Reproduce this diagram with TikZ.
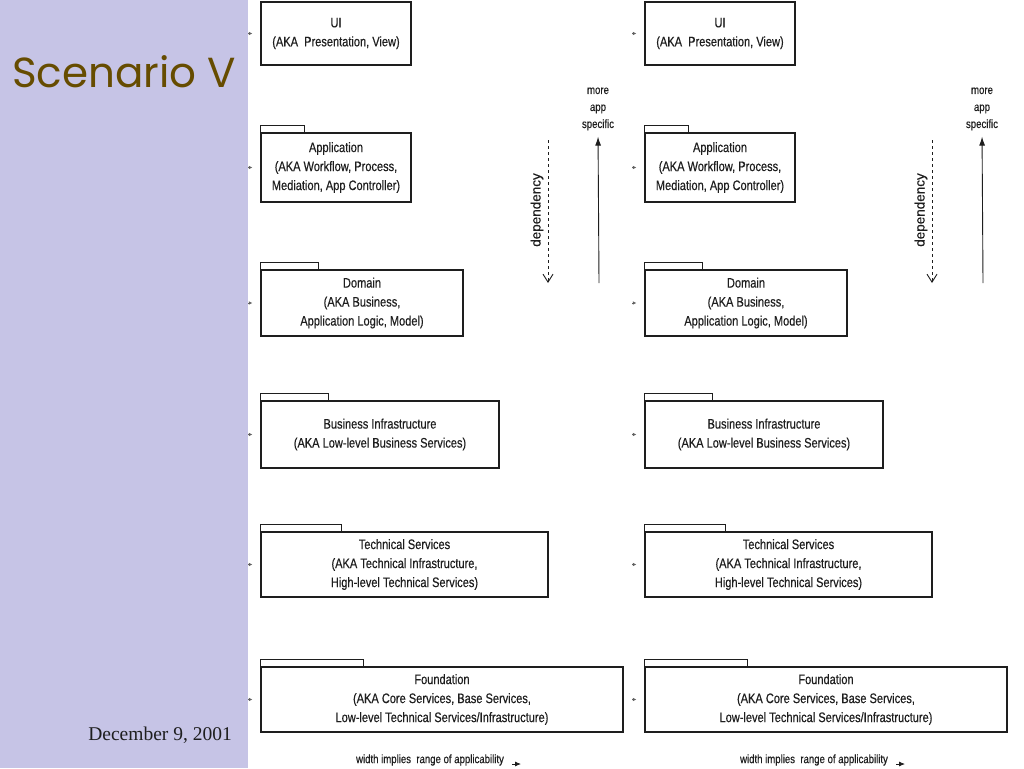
\documentclass[tikz,border=0pt]{standalone}
\usepackage{fontspec}
\setmainfont{Liberation Serif}
\newfontfamily\diafont[FakeStretch=0.8,FakeBold=0.4]{Liberation Sans}
\newfontfamily\plainfont[FakeBold=0.4]{Liberation Sans}
\newfontfamily\titlefont{Poppins}
\usetikzlibrary{arrows.meta}
\definecolor{sidebar}{RGB}{198,196,230}
\definecolor{titlebrown}{RGB}{102,76,0}
\definecolor{ink}{RGB}{30,30,30}

\begin{document}
\begin{tikzpicture}[x=1pt, y=-1pt,
    layer/.style={rectangle, draw=ink, line width=1.2pt, fill=white, text=ink, align=center, inner sep=0pt, font=\diafont\fontsize{13.8}{19}\selectfont},
    tab/.style={draw=ink, line width=1pt},
    note/.style={text=ink, align=center, inner sep=0pt, font=\diafont\fontsize{12}{17}\selectfont},
    tick/.style={draw=ink!70, line width=0.6pt, -{Latex[length=3.5pt,width=3.5pt]}},
    dep/.style={draw=ink, line width=0.9pt, dashed, -{Straight Barb[length=8pt,width=10pt]}},
    spec/.style={draw=ink, line width=0.9pt, -{Latex[length=9pt,width=6pt]}}
]
\useasboundingbox (0,0) rectangle (1024,768);
\fill[white] (0,0) rectangle (1024,768);
\fill[sidebar] (0,0) rectangle (248,768);

% Title and date
\node[font=\titlefont\fontsize{42}{42}\selectfont, text=titlebrown, anchor=west, inner sep=0pt] (title) at (12,72) {Scenario V};
\node[font=\fontsize{19.5}{19.5}\selectfont, text=ink, anchor=east, inner sep=0pt] (date) at (232,735) {December 9, 2001};

% Two copies of the layer stack
\foreach \s/\c in {0/a,384/b} {
  \begin{scope}[xshift=\s]
  % Layers
  \node[layer, minimum width=150, minimum height=63] (ui\c) at (336,33.5) {UI\\(AKA\ \ Presentation, View)};
  \node[layer, minimum width=150, minimum height=69] (app\c) at (336,167.5) {Application\\(AKA Workflow, Process,\\Mediation, App Controller)};
  \node[layer, minimum width=202, minimum height=66] (dom\c) at (362,303) {Domain\\(AKA Business,\\Application Logic, Model)};
  \node[layer, minimum width=238, minimum height=67] (bus\c) at (380,434.5) {Business Infrastructure\\(AKA Low-level Business Services)};
  \node[layer, minimum width=287, minimum height=65] (tec\c) at (404.5,564.5) {Technical Services\\(AKA Technical Infrastructure,\\High-level Technical Services)};
  \node[layer, minimum width=362, minimum height=65] (fnd\c) at (442,699.5) {Foundation\\(AKA Core Services, Base Services,\\Low-level Technical Services/Infrastructure)};

  % Package tabs
  \draw[tab] (app\c.north west) -- ++(0,-7) -- ++(44,0) -- ++(0,7);
  \draw[tab] (dom\c.north west) -- ++(0,-7) -- ++(58,0) -- ++(0,7);
  \draw[tab] (bus\c.north west) -- ++(0,-7) -- ++(68,0) -- ++(0,7);
  \draw[tab] (tec\c.north west) -- ++(0,-7) -- ++(81,0) -- ++(0,7);
  \draw[tab] (fnd\c.north west) -- ++(0,-7) -- ++(103,0) -- ++(0,7);

  % Small marks on the left
  \draw[tick] ([xshift=-12]ui\c.west) -- ++(4,0);
  \draw[tick] ([xshift=-12]app\c.west) -- ++(4,0);
  \draw[tick] ([xshift=-12]dom\c.west) -- ++(4,0);
  \draw[tick] ([xshift=-12]bus\c.west) -- ++(4,0);
  \draw[tick] ([xshift=-12]tec\c.west) -- ++(4,0);
  \draw[tick] ([xshift=-12]fnd\c.west) -- ++(4,0);

  % Dependency and specificity arrows
  \coordinate (deptop\c) at (548,140);
  \coordinate (depbot\c) at (548,283);
  \coordinate (specbot\c) at (599,283);
  \node[note] (more\c) at (598,109) {more\\app\\specific};
  \node[note, rotate=90, font=\plainfont\fontsize{13.5}{13.5}\selectfont] (deplbl\c) at (537,210) {dependency};
  \draw[dep] (deptop\c) -- (depbot\c);
  \draw[spec, shorten >=6pt] (specbot\c) -- (more\c.south);

  % Width note
  \node[note] (width\c) at (430,760) {width implies\ \ range of applicability};
  \coordinate (wend\c) at (521,764);
  \draw[draw=ink, line width=0.8pt, -{Latex[length=6pt,width=5pt]}] ([xshift=8,yshift=-4]width\c.east) -- (wend\c);
  \end{scope}
}
\end{tikzpicture}
\end{document}
